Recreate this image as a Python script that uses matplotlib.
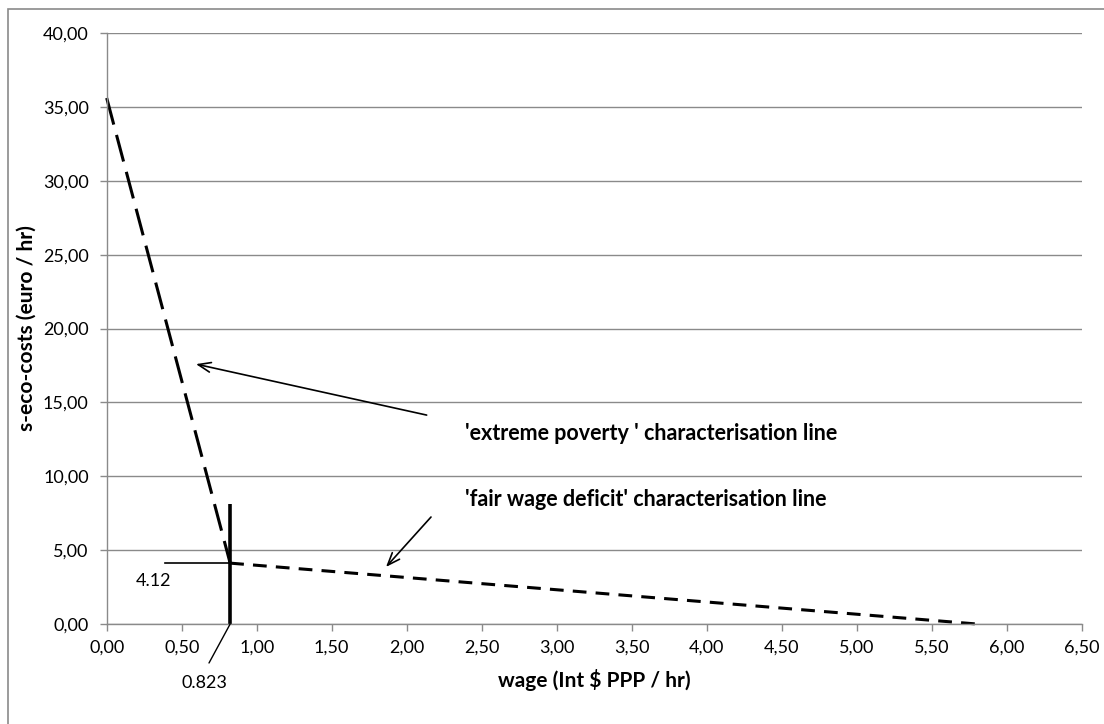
import matplotlib
matplotlib.use("Agg")
import matplotlib.pyplot as plt
from matplotlib.ticker import FuncFormatter
from matplotlib.patches import Rectangle

# data
wage_extreme = [0.0, 0.823]
cost_extreme = [35.6, 4.12]
wage_fair = [0.823, 5.8]
cost_fair = [4.12, 0.0]
threshold_wage = 0.823
threshold_cost = 4.12
marker_top = 8.1
hline_start = 0.39
x_ticks = [0, 0.5, 1, 1.5, 2, 2.5, 3, 3.5, 4, 4.5, 5, 5.5, 6, 6.5]
y_ticks = [0, 5, 10, 15, 20, 25, 30, 35, 40]

plt.rcParams['font.family'] = ['Lato', 'DejaVu Sans']
GRAY = '#8a8a8a'

fig = plt.figure(figsize=(11.04, 7.24), dpi=100)
fig.patches.append(Rectangle((7.5/1104, -0.05), 1.2, (724 - 9)/724 + 0.05,
                             transform=fig.transFigure, fill=False,
                             edgecolor=GRAY, linewidth=1.2))
ax = fig.add_axes([106.7/1104, (724-624)/724, (1081.7-106.7)/1104, (624-33)/724])

ax.set_xlim(0, 6.5)
ax.set_ylim(0, 40)
ax.set_xticks(x_ticks)
ax.set_yticks(y_ticks)
fmt = FuncFormatter(lambda v, p: f"{v:.2f}".replace('.', ','))
ax.xaxis.set_major_formatter(fmt)
ax.yaxis.set_major_formatter(fmt)
ax.yaxis.grid(True, color=GRAY, linewidth=1.0)
ax.set_axisbelow(True)
for s in ['top', 'right']:
    ax.spines[s].set_visible(False)
for s in ['left', 'bottom']:
    ax.spines[s].set_color(GRAY)
    ax.spines[s].set_linewidth(1.0)
ax.tick_params(axis='both', direction='out', length=5, width=1, color=GRAY,
               labelsize=13, labelcolor='black')
ax.tick_params(axis='x', pad=6)
ax.tick_params(axis='y', pad=8)

ax.set_xlabel('wage (Int $ PPP / hr)', fontsize=15, fontweight='bold')
ax.set_ylabel('s-eco-costs (euro / hr)', fontsize=15, fontweight='bold')
ax.xaxis.set_label_coords(0.5, (624-680)/591)
ax.yaxis.set_label_coords((27-106.7)/975, 0.5)
ax.xaxis.label.set_va('center')
ax.yaxis.label.set_va('center')

# lines
ax.plot(wage_extreme, cost_extreme, color='black', linewidth=2.2,
        linestyle=(0, (9, 3.5)), clip_on=False)
ax.plot(wage_fair, cost_fair, color='black', linewidth=2.2,
        linestyle=(0, (4.5, 3)), clip_on=False)
ax.plot([threshold_wage, threshold_wage], [0, marker_top], color='black',
        linewidth=2.6, solid_capstyle='butt')
ax.plot([hline_start, threshold_wage], [threshold_cost, threshold_cost],
        color='black', linewidth=1.2)

# annotation labels
ax.text((154-106.7)/150, (624-581)/591*40, f"{threshold_cost:.2f}", fontsize=13,
        ha='center', va='center')
ax.annotate(f"{threshold_wage:.3f}", xy=(threshold_wage, 0), xytext=(204, 724-683),
            textcoords='figure pixels', ha='center', va='center', fontsize=13,
            annotation_clip=False)
ax.annotate('', xy=(threshold_wage, 0), xytext=(209, 724-663),
            textcoords='figure pixels',
            arrowprops=dict(arrowstyle='-', color='black', lw=1.0, shrinkA=0, shrinkB=0),
            annotation_clip=False)

ax.annotate('', xy=(0.595, 17.59), xytext=(2.133, 14.14),
            arrowprops=dict(arrowstyle='->,head_length=0.9,head_width=0.35',
                            color='black', lw=1.2, shrinkA=0, shrinkB=0))
ax.annotate('', xy=(1.862, 3.86), xytext=(2.162, 7.24),
            arrowprops=dict(arrowstyle='->,head_length=0.9,head_width=0.35',
                            color='black', lw=1.2, shrinkA=0, shrinkB=0))

ax.text((465-106.7)/150, (624-433)/591*40, "'extreme poverty ' characterisation line",
        fontsize=15.5, fontweight='bold', ha='left', va='center')
ax.text((465-106.7)/150, (624-500)/591*40, "'fair wage deficit' characterisation line",
        fontsize=15.5, fontweight='bold', ha='left', va='center')

fig.savefig('out.png', dpi=100)
